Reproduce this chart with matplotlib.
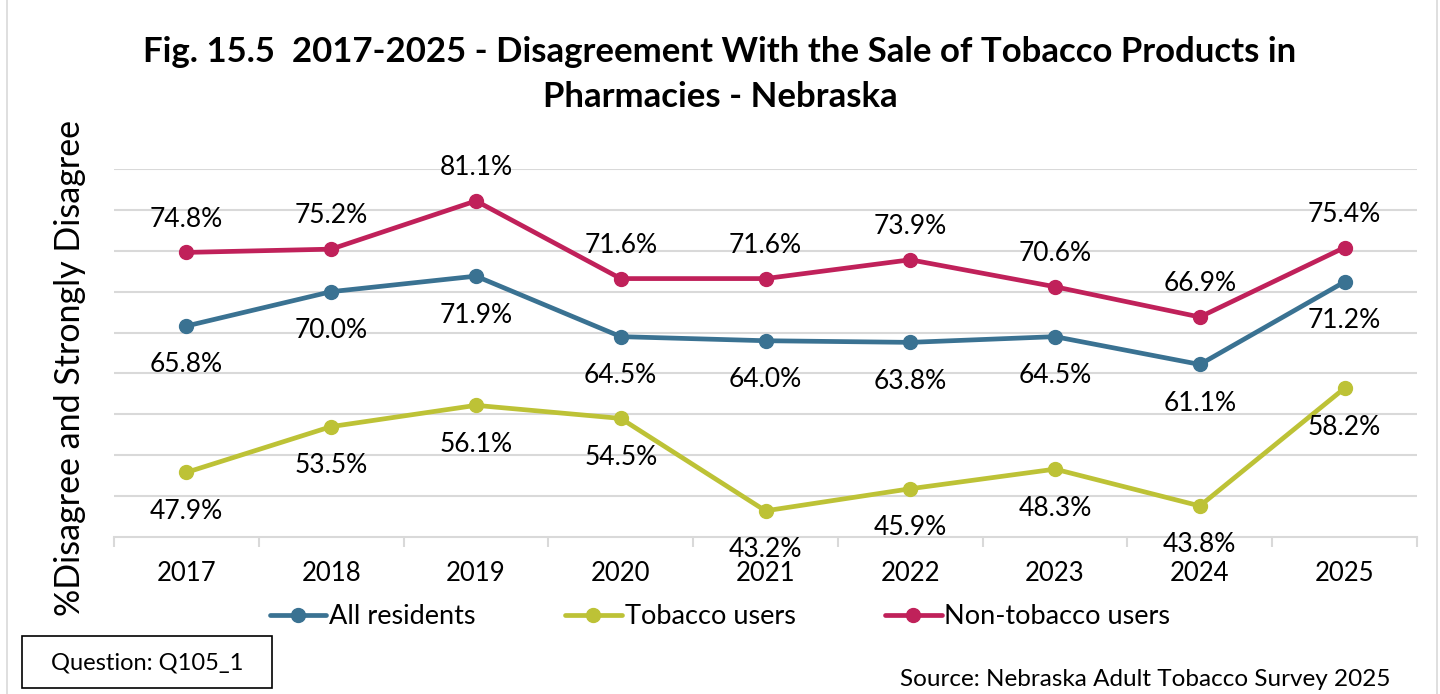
import matplotlib
matplotlib.use("Agg")
import matplotlib.pyplot as plt
from matplotlib.patches import Rectangle

# data
years = ["2017", "2018", "2019", "2020", "2021", "2022", "2023", "2024", "2025"]
all_residents = [65.8, 70.0, 71.9, 64.5, 64.0, 63.8, 64.5, 61.1, 71.2]
tobacco_users = [47.9, 53.5, 56.1, 54.5, 43.2, 45.9, 48.3, 43.8, 58.2]
non_tobacco_users = [74.8, 75.2, 81.1, 71.6, 71.6, 73.9, 70.6, 66.9, 75.4]

plt.rcParams["font.family"] = ["Lato", "DejaVu Sans"]

fig = plt.figure(figsize=(14.4, 6.94), dpi=100)
ax = fig.add_axes([114 / 1440, 157 / 694, 1303 / 1440, 368 / 694])

x = list(range(len(years)))
series = [
    ("All residents", all_residents, "#3A7292", -28),
    ("Tobacco users", tobacco_users, "#BDC236", -28),
    ("Non-tobacco users", non_tobacco_users, "#C0215A", 24),
]
for name, vals, color, off in series:
    ax.plot(x, vals, color=color, lw=3.4, marker="o", ms=10, label=name,
            solid_capstyle="round", zorder=3)
    for xi, v in zip(x, vals):
        ax.annotate(f"{v:.1f}%", (xi, v), xytext=(0, off),
                    textcoords="offset points", ha="center", va="center",
                    fontsize=19, color="black", zorder=4)

ax.set_xlim(-0.5, len(years) - 0.5)
ax.set_ylim(40, 85)
ax.set_yticks(range(45, 86, 5))
ax.yaxis.grid(True, color="#D9D9D9", lw=1.5)
ax.set_axisbelow(True)
ax.tick_params(axis="y", length=0, labelleft=False)
ax.set_xticks(x)
ax.set_xticklabels(years, fontsize=18.5)
ax.set_xticks([i + 0.5 for i in range(-1, len(years))], minor=True)
ax.tick_params(axis="x", which="major", length=0, pad=17)
ax.tick_params(axis="x", which="minor", length=7, width=1.5, color="#D9D9D9")
for s in ["top", "right", "left"]:
    ax.spines[s].set_visible(False)
ax.spines["bottom"].set_color("#D9D9D9")
ax.spines["bottom"].set_linewidth(1.5)

fig.text(0.5, 1 - 52 / 694,
         "Fig. 15.5  2017-2025 - Disagreement With the Sale of Tobacco Products in",
         ha="center", va="center", fontsize=25, fontweight="bold")
fig.text(0.5, 1 - 97 / 694, "Pharmacies - Nebraska",
         ha="center", va="center", fontsize=25, fontweight="bold")
fig.text(70 / 1440, 1 - 368 / 694, "%Disagree and Strongly Disagree",
         rotation=90, ha="center", va="center", fontsize=24.5)

fig.legend(loc="center", bbox_to_anchor=(0.5, 1 - 617 / 694), ncol=3,
           frameon=False, fontsize=19.5, handlelength=2.1, handletextpad=0.1,
           columnspacing=3.3)

# question box and source
fig.patches.append(Rectangle((22 / 1440, 1 - 688 / 694), 250 / 1440, 52 / 694,
                             transform=fig.transFigure, fill=False,
                             edgecolor="black", lw=1.2))
fig.text(147 / 1440, 1 - 663 / 694, "Question: Q105_1", ha="center",
         va="center", fontsize=17)
fig.text(1390 / 1440, 1 - 680 / 694, "Source: Nebraska Adult Tobacco Survey 2025",
         ha="right", va="center", fontsize=17.5)

# outer frame
fig.patches.append(Rectangle((7 / 1440, -0.01), 1430 / 1440, 1.02,
                             transform=fig.transFigure, fill=False,
                             edgecolor="#D9D9D9", lw=1.2))

fig.savefig("out.png", dpi=100)
